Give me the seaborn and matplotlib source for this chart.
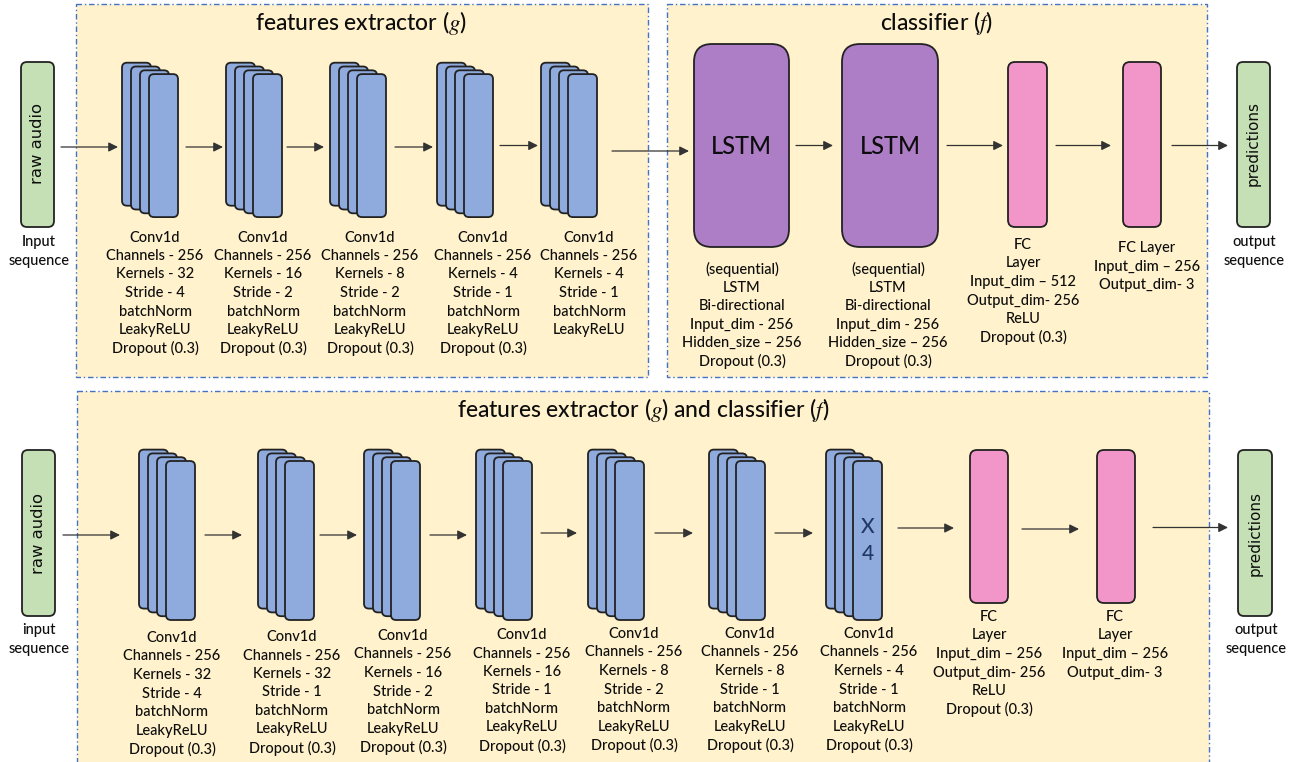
import matplotlib
matplotlib.use('Agg')
import matplotlib.pyplot as plt
from matplotlib.patches import FancyBboxPatch, Rectangle
import seaborn as sns

sns.set_theme(style='white')
plt.rcParams['font.family'] = ['Lato', 'DejaVu Sans']
plt.rcParams['font.weight'] = 'medium'
plt.rcParams['mathtext.fontset'] = 'stix'

# layer settings
channels = 256
top_kernels = [32, 16, 8, 4, 4]
top_strides = [4, 2, 2, 1, 1]
top_dropout = [True, True, True, True, False]
bottom_kernels = [32, 32, 16, 16, 8, 8, 4]
bottom_strides = [4, 1, 2, 1, 2, 1, 1]
lstm_lines = ['(sequential)', 'LSTM', 'Bi-directional', 'Input_dim - 256',
              'Hidden_size \u2013 256', 'Dropout (0.3)']
top_fc_lines = [['FC', 'Layer', 'Input_dim \u2013 512', 'Output_dim- 256', 'ReLU', 'Dropout (0.3)'],
                ['FC Layer', 'Input_dim \u2013 256', 'Output_dim- 3']]
bottom_fc_lines = [['FC', 'Layer', 'Input_dim \u2013 256', 'Output_dim- 256', 'ReLU', 'Dropout (0.3)'],
                   ['FC', 'Layer', 'Input_dim \u2013 256', 'Output_dim- 3']]

# layout (pixel units)
top_stack_x = [122, 226, 330, 437, 541]
top_text_x = [155, 263, 370, 483, 589]
bottom_stack_x = [139, 258, 364, 476, 588, 709, 826]
bottom_text_x = [172, 292, 403, 522, 634, 750, 869]
bottom_text_y = [638, 637, 636, 635, 634, 634, 634]
top_arrows = [(61, 118, 147), (186, 223, 147), (287, 324, 147), (395, 433, 147), (500, 538, 145.5),
              (612, 689, 151), (796, 833, 145.5), (947, 1003, 145.5), (1056, 1111, 145.5), (1172, 1228, 145.5)]
bottom_arrows = [(63, 120, 535), (205, 242, 535), (320, 357, 535), (430, 467, 535), (541, 577, 533),
                 (655, 693, 533), (775, 813, 533), (898, 954, 528), (1022, 1079, 529), (1153, 1228, 527.5)]

YELLOW = '#FFF2CC'
BORDER = '#4472C4'
BLUE = '#8FAADC'
PURPLE = '#AD7DC6'
PINK = '#F296CA'
GREEN = '#C5E0B4'
EDGE = '#222222'
INK = '#0d0d0d'
FS = 10.5


def box(ax, x0, y0, x1, y1, fc, r, lw=1.3):
    ax.add_patch(FancyBboxPatch((x0, y0), x1 - x0, y1 - y0,
                                boxstyle=f'round,pad=0,rounding_size={r}',
                                fc=fc, ec=EDGE, lw=lw, zorder=3))


def conv_stack(ax, left, top, h):
    for i in range(4):
        box(ax, left + i * 9, top + i * 3.8, left + i * 9 + 29, top + i * 3.8 + h, BLUE, 5)


def lines_at(ax, xc, y0, lines, dy=18.5, fs=FS):
    for i, s in enumerate(lines):
        ax.text(xc, y0 + i * dy, s, ha='center', va='center', fontsize=fs, color=INK, zorder=4)


def arrow(ax, x0, x1, y):
    ax.annotate('', xy=(x1, y), xytext=(x0, y),
                arrowprops=dict(arrowstyle='-|>,head_length=0.4,head_width=0.2', color='#333333',
                                lw=0.9, shrinkA=0, shrinkB=0, mutation_scale=14), zorder=5)


def conv_lines(k, s, drop=True):
    out = ['Conv1d', f'Channels - {channels}', f'Kernels - {k}', f'Stride - {s}', 'batchNorm', 'LeakyReLU']
    if drop:
        out.append('Dropout (0.3)')
    return out


fig = plt.figure(figsize=(13.03, 7.62), dpi=100)
ax = fig.add_axes([0, 0, 1, 1])
ax.set_xlim(0, 1303)
ax.set_ylim(762, 0)
ax.axis('off')

# dashed section boxes
for (x0, y0, x1, y1) in [(76, 4, 648, 377), (667, 4, 1207, 377), (77, 391, 1209, 770)]:
    ax.add_patch(Rectangle((x0, y0), x1 - x0, y1 - y0, fc=YELLOW, ec=BORDER, lw=1.0,
                           linestyle=(0, (4, 2, 1, 2)), zorder=1))

ax.text(361, 23, 'features extractor ($g$)', ha='center', va='center', fontsize=16.5, color=INK)
ax.text(936, 23, 'classifier ($f$)', ha='center', va='center', fontsize=16.5, color=INK)
ax.text(643, 410, 'features extractor ($g$) and classifier ($f$)', ha='center', va='center',
        fontsize=16.5, color=INK)

# ---- top model ----
box(ax, 21, 62, 54, 227, GREEN, 6)
ax.text(37.5, 144, 'raw audio', rotation=90, ha='center', va='center', family='DejaVu Sans',
        fontsize=11.8, color=INK, zorder=4)
lines_at(ax, 39, 242, ['Input', 'sequence'], dy=19)

for i, (k, s, d) in enumerate(zip(top_kernels, top_strides, top_dropout)):
    conv_stack(ax, top_stack_x[i], 62.7, 143)
    lines_at(ax, top_text_x[i], 237.5, conv_lines(k, s, d))

for x0, x1 in [(694, 789), (842, 938)]:
    box(ax, x0, 44, x1, 247, PURPLE, 18)
    ax.text((x0 + x1) / 2, 146, 'LSTM', ha='center', va='center', fontsize=17, color=INK, zorder=4)
lines_at(ax, 742, 269, lstm_lines)
lines_at(ax, 888, 269, lstm_lines)

box(ax, 1008, 62, 1047, 227, PINK, 7)
box(ax, 1123, 62, 1161, 227, PINK, 7)
lines_at(ax, 1023, 245, top_fc_lines[0])
lines_at(ax, 1147, 248, top_fc_lines[1])

box(ax, 1237, 62, 1270, 227, GREEN, 6)
ax.text(1253.5, 144, 'predictions', rotation=90, ha='center', va='center', family='DejaVu Sans',
        fontsize=11, color=INK, zorder=4)
lines_at(ax, 1254, 242, ['output', 'sequence'], dy=19)

for x0, x1, y in top_arrows:
    arrow(ax, x0, x1, y)

# ---- bottom model ----
box(ax, 22, 450, 55, 616, GREEN, 6)
ax.text(38.5, 533, 'raw audio', rotation=90, ha='center', va='center', family='DejaVu Sans',
        fontsize=11.8, color=INK, zorder=4)
lines_at(ax, 39, 630, ['input', 'sequence'], dy=19)

for i, (k, s) in enumerate(zip(bottom_kernels, bottom_strides)):
    conv_stack(ax, bottom_stack_x[i], 449.6, 159)
    lines_at(ax, bottom_text_x[i], bottom_text_y[i], conv_lines(k, s))

ax.text(867.5, 527, 'X', ha='center', va='center', fontsize=15, color='#203864', zorder=4)
ax.text(867.5, 554, '4', ha='center', va='center', fontsize=15, color='#203864', zorder=4)

box(ax, 970, 450, 1008, 603, PINK, 7)
box(ax, 1097, 450, 1135, 603, PINK, 7)
lines_at(ax, 989, 617, bottom_fc_lines[0])
lines_at(ax, 1115, 617, bottom_fc_lines[1])

box(ax, 1238, 450, 1272, 616, GREEN, 6)
ax.text(1255, 533, 'predictions', rotation=90, ha='center', va='center', family='DejaVu Sans',
        fontsize=11, color=INK, zorder=4)
lines_at(ax, 1256, 630, ['output', 'sequence'], dy=19)

for x0, x1, y in bottom_arrows:
    arrow(ax, x0, x1, y)

fig.savefig('out.png', dpi=100)
